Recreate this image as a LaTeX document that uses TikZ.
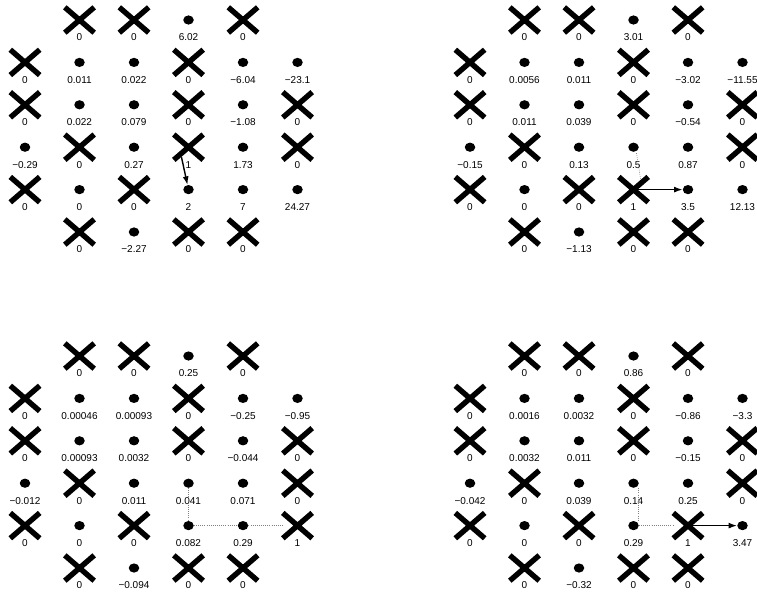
\documentclass[tikz,border=0pt]{standalone}
\usepackage{fontspec}
\setmainfont{Liberation Sans}
\usepackage{tikz}
\usetikzlibrary{shapes.misc,shapes.geometric,arrows.meta,calc}
\tikzset{
  cruz/.style={cross out,draw=black,line width=5.4pt,minimum width=24pt,minimum height=20pt,inner sep=0pt},
  punto/.style={ellipse,fill=black,minimum width=10.5pt,minimum height=9.2pt,inner sep=0pt},
  valor/.style={anchor=base,inner sep=0pt,font=\fontsize{10}{12}\selectfont},
  camino/.style={black!50,line width=0.7pt,dash pattern=on 0.7pt off 1.4pt},
  flecha/.style={-{Latex[length=8.5pt,width=6pt]},line width=1.4pt}
}
% Un tablero: prefijo, origen x, origen y, lista columna/fila/tipo/valor.
\newcommand\tablero[4]{
  \foreach \col/\fil/\tipo/\val in {#4}{
    \node[\tipo] (#1-\col-\fil) at ({#2+54.5*\col},{#3+42.4*\fil}) {};
    \node[valor] (#1-\col-\fil-v) at ({#2+54.5*\col},{#3+42.4*\fil+20.8}) {\val};
  }
}
\begin{document}
\begin{tikzpicture}[x=1pt,y=-1pt]
  \useasboundingbox (0,0) rectangle (757,598);
  % Arriba a la izquierda.
  \tablero{a}{25}{20}{
    1/0/cruz/0, 2/0/cruz/0, 3/0/punto/6.02, 4/0/cruz/0,
    0/1/cruz/0, 1/1/punto/0.011, 2/1/punto/0.022, 3/1/cruz/0, 4/1/punto/−6.04, 5/1/punto/−23.1,
    0/2/cruz/0, 1/2/punto/0.022, 2/2/punto/0.079, 3/2/cruz/0, 4/2/punto/−1.08, 5/2/cruz/0,
    0/3/punto/−0.29, 1/3/cruz/0, 2/3/punto/0.27, 3/3/cruz/1, 4/3/punto/1.73, 5/3/cruz/0,
    0/4/cruz/0, 1/4/punto/0, 2/4/cruz/0, 3/4/punto/2, 4/4/punto/7, 5/4/punto/24.27,
    1/5/cruz/0, 2/5/punto/−2.27, 3/5/cruz/0, 4/5/cruz/0}
  \draw[flecha] ($(a-3-3)+(-7,10)$) -- (a-3-4);
  % Arriba a la derecha.
  \tablero{b}{470}{20}{
    1/0/cruz/0, 2/0/cruz/0, 3/0/punto/3.01, 4/0/cruz/0,
    0/1/cruz/0, 1/1/punto/0.0056, 2/1/punto/0.011, 3/1/cruz/0, 4/1/punto/−3.02, 5/1/punto/−11.55,
    0/2/cruz/0, 1/2/punto/0.011, 2/2/punto/0.039, 3/2/cruz/0, 4/2/punto/−0.54, 5/2/cruz/0,
    0/3/punto/−0.15, 1/3/cruz/0, 2/3/punto/0.13, 3/3/punto/0.5, 4/3/punto/0.87, 5/3/cruz/0,
    0/4/cruz/0, 1/4/punto/0, 2/4/cruz/0, 3/4/cruz/1, 4/4/punto/3.5, 5/4/punto/12.13,
    1/5/cruz/0, 2/5/punto/−1.13, 3/5/cruz/0, 4/5/cruz/0}
  \draw[camino] ($(b-3-3)+(3,6)$) -- ($(b-3-4)+(7,-11)$);
  \draw[flecha] (b-3-4.center) -- (b-4-4);
  % Abajo a la izquierda.
  \tablero{c}{25}{356}{
    1/0/cruz/0, 2/0/cruz/0, 3/0/punto/0.25, 4/0/cruz/0,
    0/1/cruz/0, 1/1/punto/0.00046, 2/1/punto/0.00093, 3/1/cruz/0, 4/1/punto/−0.25, 5/1/punto/−0.95,
    0/2/cruz/0, 1/2/punto/0.00093, 2/2/punto/0.0032, 3/2/cruz/0, 4/2/punto/−0.044, 5/2/cruz/0,
    0/3/punto/−0.012, 1/3/cruz/0, 2/3/punto/0.011, 3/3/punto/0.041, 4/3/punto/0.071, 5/3/cruz/0,
    0/4/cruz/0, 1/4/punto/0, 2/4/cruz/0, 3/4/punto/0.082, 4/4/punto/0.29, 5/4/cruz/1,
    1/5/cruz/0, 2/5/punto/−0.094, 3/5/cruz/0, 4/5/cruz/0}
  \draw[camino] (c-3-3) -- (c-3-4);
  \draw[camino] (c-3-4) -- (c-4-4);
  \draw[camino] (c-4-4) -- (c-5-4);
  % Abajo a la derecha.
  \tablero{d}{470}{356}{
    1/0/cruz/0, 2/0/cruz/0, 3/0/punto/0.86, 4/0/cruz/0,
    0/1/cruz/0, 1/1/punto/0.0016, 2/1/punto/0.0032, 3/1/cruz/0, 4/1/punto/−0.86, 5/1/punto/−3.3,
    0/2/cruz/0, 1/2/punto/0.0032, 2/2/punto/0.011, 3/2/cruz/0, 4/2/punto/−0.15, 5/2/cruz/0,
    0/3/punto/−0.042, 1/3/cruz/0, 2/3/punto/0.039, 3/3/punto/0.14, 4/3/punto/0.25, 5/3/cruz/0,
    0/4/cruz/0, 1/4/punto/0, 2/4/cruz/0, 3/4/punto/0.29, 4/4/cruz/1, 5/4/punto/3.47,
    1/5/cruz/0, 2/5/punto/−0.32, 3/5/cruz/0, 4/5/cruz/0}
  \draw[camino] ($(d-3-3)+(5,5)$) -- ($(d-3-4)+(5,-5)$);
  \draw[camino] (d-3-4) -- (d-4-4);
  \draw[flecha] (d-4-4.center) -- (d-5-4);
\end{tikzpicture}
\end{document}
